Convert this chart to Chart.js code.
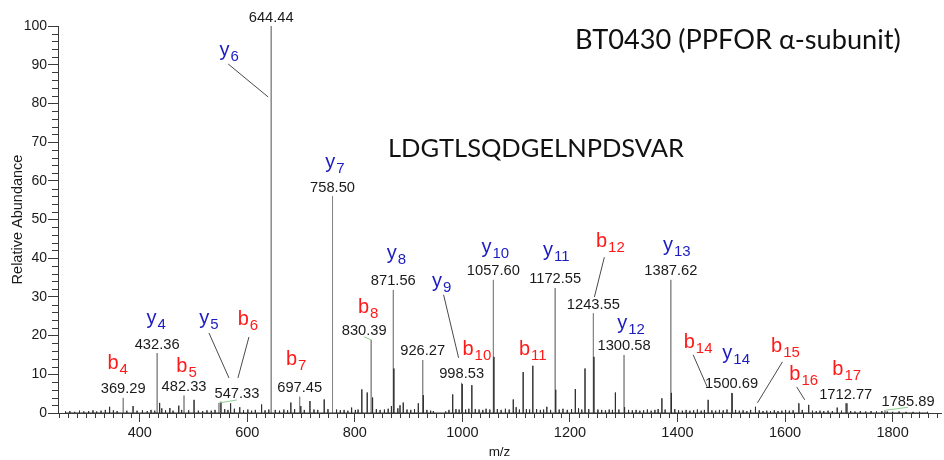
<!DOCTYPE html>
<html>
<head>
<meta charset="utf-8">
<script src="https://cdn.jsdelivr.net/npm/chart.js@4.4.0/dist/chart.umd.min.js"></script>
<style>
  html,body{margin:0;padding:0;background:#fff;}
  canvas{display:block;}
</style>
</head>
<body>
<canvas id="chart" width="944" height="460"></canvas>
<script>
// annotated peaks: m/z, relative abundance, printed value
const labelMz   = [369.29, 432.36, 482.33, 547.33, 644.44, 697.45, 758.50, 830.39, 871.56, 926.27,
                   998.53, 1057.60, 1172.55, 1243.55, 1300.58, 1387.62, 1500.69, 1712.77, 1785.89];
const labelInt  = [3.9, 15.5, 4.5, 2.6, 100, 4.2, 56.0, 18.9, 31.8, 13.7,
                   7.8, 34.4, 32.3, 25.8, 15.0, 34.4, 5.2, 2.5, 0.7];
const labelText = ["369.29","432.36","482.33","547.33","644.44","697.45","758.50","830.39","871.56","926.27",
                   "998.53","1057.60","1172.55","1243.55","1300.58","1387.62","1500.69","1712.77","1785.89"];

// the rest of the spectrum (small and unassigned peaks)
const otherMz  = [262,270,279,288,296,305,313,320,328,336,344,351,358,376,387.6,395,405,414,421,428,
                  437,441,448,456,462,472.6,478,491,501,509,517,525,533,540,551,558,564,569,576,586,
                  593,601,608,615,626.6,633,640,652,660,668,675,681,688,699.5,706,716.5,724,731,743,750,
                  766,773,780,787,794,801,806,813,823,833,840,847,855,862,868,872.6,880,884,890,897,
                  904,911,918,927.3,934,941,946,969,975,982,988,994,999.6,1006,1012,1017.6,1024,1031,1038,1044,
                  1051,1058.6,1065,1072,1080,1087,1094.6,1100,1106,1113,1119,1125,1131,1138,1145,1151,1157,1164,1173.6,1180,
                  1187,1195,1203,1210,1216,1222,1228,1235,1244.6,1252,1259,1266,1273,1279,1284.5,1291,1301.6,1309,1316,1323,
                  1330,1337,1344,1351,1358,1364,1371,1377,1388.6,1395,1402,1409,1416,1423,1430,1437,1444,1450,1457,1464,
                  1471,1478,1485,1492,1501.6,1508,1515,1522,1529,1536,1545,1552,1559,1566,1573,1580,1587,1594,1601,1608,
                  1615,1625.7,1632,1644,1651,1658,1665,1672,1680,1688,1697,1705,1715,1722,1730,1740,1750,1760,1770,1780,
                  1790,1800,1812,1825,1838,1850,1865];
const otherInt = [0.4,0.5,0.3,0.6,0.4,0.5,0.7,0.4,0.6,0.8,1.6,0.7,0.5,0.6,1.8,0.6,0.7,0.5,0.8,0.6,
                  2.6,1.2,0.7,1.3,0.6,1.9,0.8,0.7,3.4,0.6,0.5,0.7,0.6,0.8,2.9,1.0,0.8,2.5,1.1,1.5,
                  0.7,0.9,0.6,0.8,2.2,0.7,0.9,0.8,0.6,0.9,0.7,2.7,1.0,1.8,0.8,3.1,0.9,0.8,3.5,1.0,
                  0.9,0.7,0.8,0.6,1.4,0.8,0.9,6.1,5.3,4.0,1.0,0.8,0.9,1.1,1.8,11.5,1.2,2.0,2.7,0.9,
                  0.8,1.0,2.5,4.6,0.8,0.6,0.5,0.4,0.8,4.8,1.0,0.9,7.5,0.9,1.1,7.2,1.0,0.9,0.8,1.1,
                  0.9,14.5,1.0,0.8,1.1,0.9,3.5,1.5,0.9,10.6,1.0,0.9,12.2,1.0,0.8,0.9,1.6,0.8,6.0,0.9,
                  1.1,0.8,1.0,6.2,1.2,0.9,11.5,1.0,14.5,0.9,0.8,0.7,0.9,0.8,5.3,0.9,1.5,0.8,0.7,0.8,
                  0.6,0.7,0.9,0.6,0.8,1.0,3.8,0.9,5.2,1.0,0.7,0.6,0.8,0.6,0.7,0.9,0.6,0.8,3.4,0.7,
                  0.6,0.8,0.7,0.9,5.1,0.8,0.6,0.7,0.5,0.8,1.6,0.7,0.5,0.6,0.5,0.7,0.5,0.6,0.8,0.6,
                  0.7,2.5,0.8,2.1,0.6,0.5,0.6,0.5,0.6,0.5,1.4,0.6,2.5,0.5,0.4,0.5,0.4,0.5,0.4,0.5,
                  0.4,0.3,0.4,0.3,0.3,0.3,0.3];

// fragment ion assignments and the peak each one belongs to
const ionName = ["b4","y4","b5","y5","b6","y6","b7","y7","b8","y8","y9","b10",
                 "y10","b11","y11","b12","y12","y13","b14","y14","b15","b16","b17"];
const ionMz   = [369.29,432.36,482.33,547.33,547.33,644.44,697.45,758.50,830.39,871.56,998.53,1017.6,
                 1057.60,1131,1172.55,1243.55,1300.58,1387.62,1457,1500.69,1545,1644,1712.77];

const titleText = "BT0430 (PPFOR \u03b1-subunit)";
const peptide   = "LDGTLSQDGELNPDSVAR";

// label placement tweaks (pixels)
const ionLayout = {
  b4:{dx:-5.5}, y4:{dx:-1}, b5:{dx:2.5, dy:5},
  y5:{dx:-10, dy:-50, lead:[0,9,10,-25]},
  b6:{dx:29, dy:-49, lead:[1,12,19,-25]},
  y6:{dx:-42, dy:59, lead:[-1,8,-3,71]},
  b7:{dx:-3.5, dy:-3}, y7:{dx:2.5, dy:1}, b8:{dx:-3, dy:2}, y8:{dx:3, dy:-2},
  y9:{dx:-20, dy:-67, lead:[2,8,-3,-25]},
  b10:{dx:5, dy:-1}, y10:{dx:2, dy:2}, b11:{dx:0, dy:18}, y11:{dx:1, dy:-3},
  b12:{dx:17, dy:-37, lead:[-6,10,1,-16]},
  y12:{dx:7, dy:3}, y13:{dx:6},
  b14:{dx:-10, dy:-23, lead:[-5,7,-1,-13]},
  y14:{dx:4.5, dy:-5},
  b15:{dx:30, dy:-26, lead:[-3,10,2,-4]},
  b16:{dx:-5, dy:4, lead:[-7,7,-4,-5]},
  b17:{dx:1, dy:1}
};
const numLayout = {"547.33":{dx:18, link:true}, "830.39":{dx:-7, link:true}, "1785.89":{dx:23, link:true}};

const SANS = "Arial, 'Liberation Sans', sans-serif";

function sticks(mz, ab, breakAfter){
  const pts = [];
  mz.forEach((m,i)=>{
    pts.push({x:m, y:0}, {x:m, y:ab[i]}, {x:m, y:0});
    if(breakAfter) pts.push({x:m, y:null});
  });
  return pts;
}

function peakAt(m){
  let best = 0, d = Infinity;
  labelMz.forEach((v,i)=>{ if(Math.abs(v-m) < d){ d = Math.abs(v-m); best = labelInt[i]; } });
  otherMz.forEach((v,i)=>{ if(Math.abs(v-m) < d){ d = Math.abs(v-m); best = otherInt[i]; } });
  return best;
}

function fitText(ctx, text, family, width){
  ctx.font = "100px " + family;
  return 100 * width / ctx.measureText(text).width;
}

function drawIon(ctx, name, cx, by){
  const letter = name[0], sub = name.slice(1);
  ctx.fillStyle = letter === "y" ? "#1c1cc0" : "#ff1a1a";
  ctx.font = "20px " + SANS;
  const w1 = ctx.measureText(letter).width;
  ctx.font = "15px " + SANS;
  const w2 = ctx.measureText(sub).width;
  const x0 = cx - (w1 + 1 + w2) / 2;
  ctx.textAlign = "left";
  ctx.font = "20px " + SANS;
  ctx.fillText(letter, x0, by);
  ctx.font = "15px " + SANS;
  ctx.fillText(sub, x0 + w1 + 1, by + 5);
}

const annotate = {
  id: "annotate",
  afterDatasetsDraw(chart){
    const {ctx, scales:{x, y}} = chart;
    ctx.save();

    // minor ticks
    ctx.strokeStyle = "#3a3a3a";
    ctx.lineWidth = 1;
    ctx.beginPath();
    for(let v = 2; v < 100; v += 2){
      if(v % 10 === 0) continue;
      const py = Math.round(y.getPixelForValue(v)) + 0.5;
      ctx.moveTo(x.left - 6, py); ctx.lineTo(x.left, py);
    }
    for(let k = 0; ; k++){
      const v = 250 + k * 200 / 12;
      if(v > x.max) break;
      if(k % 12 === 9) continue;
      const px = Math.round(x.getPixelForValue(v)) + 0.5;
      ctx.moveTo(px, y.bottom); ctx.lineTo(px, y.bottom + 5);
    }
    ctx.stroke();

    // m/z values over peaks
    ctx.font = "14.7px " + SANS;
    ctx.textAlign = "center";
    ctx.textBaseline = "alphabetic";
    labelMz.forEach((m,i)=>{
      const lay = numLayout[labelText[i]] || {};
      const px = x.getPixelForValue(m), ty = y.getPixelForValue(labelInt[i]);
      const tx = px + (lay.dx || 0), tb = ty - 4.5;
      if(lay.link){
        ctx.strokeStyle = "#8fd08f";
        ctx.beginPath(); ctx.moveTo(px, ty); ctx.lineTo(tx, tb + 1.5); ctx.stroke();
      }
      ctx.fillStyle = "#1a1a1a";
      ctx.fillText(labelText[i], tx, tb);
    });

    // ion names with leader lines
    ionName.forEach((n,i)=>{
      const lay = ionLayout[n] || {};
      const px = x.getPixelForValue(ionMz[i]), ty = y.getPixelForValue(peakAt(ionMz[i]));
      const cx = px + (lay.dx || 0), by = ty - 29 + (lay.dy || 0);
      if(lay.lead){
        const [sx, sy, ex, ey] = lay.lead;
        ctx.strokeStyle = "#4a4a4a";
        ctx.beginPath(); ctx.moveTo(cx + sx, by + sy); ctx.lineTo(px + ex, ty + ey); ctx.stroke();
      }
      drawIon(ctx, n, cx, by);
    });

    // title and peptide sequence
    ctx.fillStyle = "#111";
    ctx.textAlign = "left";
    let fs = fitText(ctx, titleText, "Lato, 'Open Sans', sans-serif", 326);
    ctx.font = fs + "px Lato, 'Open Sans', sans-serif";
    ctx.fillText(titleText, 575, 49);
    fs = fitText(ctx, peptide, "Lato, 'Open Sans', sans-serif", 296);
    ctx.font = fs + "px Lato, 'Open Sans', sans-serif";
    ctx.fillText(peptide, 388, 157);

    ctx.restore();
  }
};

new Chart(document.getElementById("chart"), {
  type: "line",
  data: {
    datasets: [{
      data: sticks(otherMz, otherInt, false),
      borderColor: "#2e2e2e",
      borderWidth: 1,
      pointRadius: 0,
      tension: 0
    },{
      data: sticks(labelMz, labelInt, true),
      borderColor: "#858585",
      borderWidth: 1,
      pointRadius: 0,
      tension: 0,
      spanGaps: false
    }]
  },
  options: {
    responsive: false,
    animation: false,
    devicePixelRatio: 1,
    layout: {padding: {top: 26, right: 3, left: 0, bottom: 0}},
    plugins: {legend: {display: false}, tooltip: {enabled: false}},
    scales: {
      x: {
        type: "linear",
        min: 248, max: 1890,
        afterFit(s){ s.height = 47; },
        border: {color: "#3a3a3a"},
        grid: {drawOnChartArea: false, tickLength: 9, tickColor: "#3a3a3a"},
        ticks: {stepSize: 200, includeBounds: false, maxRotation: 0, autoSkip: false, padding: 2,
                callback: v => String(v),
                color: "#1a1a1a", font: {family: SANS, size: 14.5}},
        title: {display: true, text: "m/z", color: "#1a1a1a", padding: {top: 0, bottom: 0},
                font: {family: SANS, size: 13.5}}
      },
      y: {
        min: 0, max: 100,
        afterFit(s){ s.width = 58; },
        border: {color: "#3a3a3a"},
        grid: {drawOnChartArea: false, tickLength: 10, tickColor: "#3a3a3a"},
        ticks: {stepSize: 10, padding: 1, callback: v => String(v),
                color: "#1a1a1a", font: {family: SANS, size: 14}},
        title: {display: true, text: "Relative Abundance", color: "#1a1a1a", padding: {top: 9, bottom: 0},
                font: {family: SANS, size: 14.5}}
      }
    }
  },
  plugins: [annotate]
});
</script>
</body>
</html>
